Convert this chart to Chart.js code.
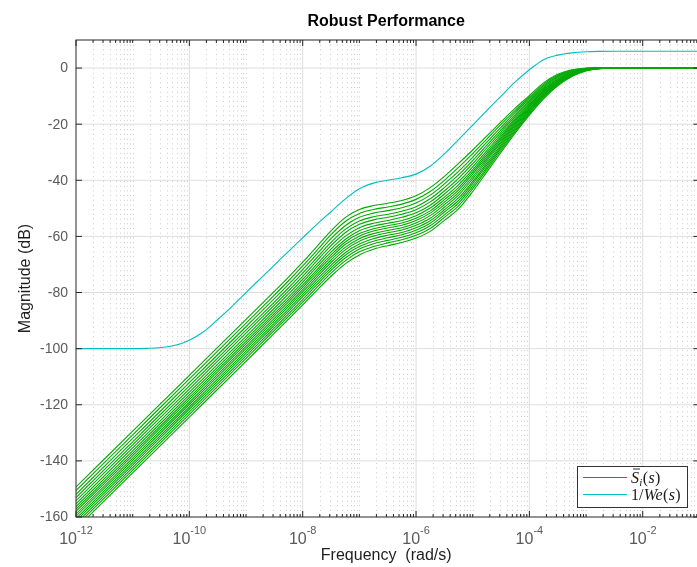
<!DOCTYPE html>
<html>
<head>
<meta charset="utf-8">
<script src="https://cdn.jsdelivr.net/npm/chart.js@4.4.1/dist/chart.umd.min.js"></script>
<style>
  html, body { margin: 0; padding: 0; background: #ffffff; overflow: hidden; }
  canvas { display: block; }
</style>
</head>
<body>
<canvas id="c" width="700" height="567"></canvas>
<script>
// Frequency grid (rad/s) for the sensitivity curves
const freq = [1e-12, 1e-11, 1e-10, 1e-9, 1.778e-9, 3.162e-9, 5.623e-9, 1e-8, 1.778e-8, 3.162e-8, 5.623e-8,
              1e-7, 1.778e-7, 3.162e-7, 5.623e-7, 1e-6, 1.778e-6, 3.162e-6, 5.623e-6, 1e-5, 1.778e-5,
              3.162e-5, 5.623e-5, 1e-4, 1.778e-4, 3.162e-4, 5.623e-4, 1e-3, 1.778e-3, 3.162e-3, 5.623e-3,
              1e-2, 1e-1];

// |S_i(jw)| in dB, one array per plant sample
const si01 = [-149.3, -129.4, -109.5, -89.6, -84.6, -79.6, -74.5, -69.2, -63.6, -58.0, -53.3, -50.4, -49.0, -48.2, -47.2, -45.5, -42.6, -38.6, -34.0, -29.2, -24.2, -19.2, -14.3, -9.8, -5.3, -2.2, -0.6, 0.0, 0.2, 0.2, 0.1, 0.0, 0.0];
const si02 = [-150.6, -130.7, -110.8, -90.9, -85.9, -80.9, -75.8, -70.5, -65.0, -59.4, -54.7, -51.8, -50.4, -49.5, -48.5, -46.8, -44.0, -40.0, -35.4, -30.5, -25.3, -20.1, -15.1, -10.4, -5.8, -2.6, -0.8, -0.1, 0.2, 0.2, 0.1, 0.0, 0.0];
const si03 = [-151.9, -132.0, -112.1, -92.2, -87.2, -82.2, -77.1, -71.8, -66.3, -60.8, -56.2, -53.2, -51.7, -50.8, -49.8, -48.1, -45.3, -41.3, -36.8, -31.8, -26.4, -21.1, -15.8, -11.0, -6.3, -2.9, -1.0, -0.2, 0.1, 0.2, 0.1, 0.0, 0.0];
const si04 = [-153.1, -133.2, -113.3, -93.4, -88.4, -83.4, -78.3, -73.1, -67.6, -62.1, -57.5, -54.5, -53.0, -52.1, -51.0, -49.4, -46.6, -42.6, -38.1, -33.0, -27.5, -22.0, -16.6, -11.6, -6.8, -3.2, -1.2, -0.3, 0.1, 0.1, 0.1, 0.0, 0.0];
const si05 = [-154.2, -134.3, -114.4, -94.5, -89.5, -84.5, -79.4, -74.2, -68.7, -63.3, -58.7, -55.7, -54.1, -53.2, -52.1, -50.5, -47.7, -43.8, -39.3, -34.1, -28.4, -22.8, -17.2, -12.1, -7.2, -3.5, -1.4, -0.3, 0.1, 0.1, 0.1, 0.0, 0.0];
const si06 = [-155.3, -135.4, -115.5, -95.6, -90.6, -85.6, -80.5, -75.3, -69.9, -64.5, -60.0, -56.9, -55.3, -54.3, -53.2, -51.6, -48.9, -44.9, -40.5, -35.2, -29.4, -23.6, -17.9, -12.6, -7.6, -3.9, -1.6, -0.4, 0.0, 0.1, 0.1, 0.0, 0.0];
const si07 = [-156.3, -136.4, -116.5, -96.6, -91.6, -86.6, -81.6, -76.3, -70.9, -65.6, -61.1, -58.0, -56.3, -55.3, -54.3, -52.6, -49.9, -46.0, -41.6, -36.2, -30.2, -24.3, -18.5, -13.1, -8.0, -4.1, -1.7, -0.5, 0.0, 0.1, 0.1, 0.0, 0.0];
const si08 = [-157.2, -137.3, -117.4, -97.5, -92.5, -87.5, -82.5, -77.3, -71.9, -66.6, -62.0, -59.0, -57.3, -56.2, -55.2, -53.5, -50.9, -46.9, -42.6, -37.0, -31.0, -24.9, -19.0, -13.5, -8.3, -4.4, -1.9, -0.5, 0.0, 0.1, 0.0, 0.0, 0.0];
const si09 = [-158.0, -138.1, -118.2, -98.3, -93.3, -88.3, -83.3, -78.1, -72.7, -67.5, -62.9, -59.9, -58.1, -57.0, -56.0, -54.3, -51.7, -47.8, -43.5, -37.8, -31.7, -25.5, -19.5, -13.9, -8.6, -4.6, -2.0, -0.6, 0.0, 0.1, 0.0, 0.0, 0.0];
const si10 = [-158.9, -139.0, -119.1, -99.2, -94.2, -89.2, -84.2, -79.0, -73.6, -68.4, -63.9, -60.8, -59.0, -57.9, -56.9, -55.2, -52.6, -48.7, -44.4, -38.7, -32.4, -26.2, -20.0, -14.3, -9.0, -4.8, -2.1, -0.6, -0.1, 0.1, 0.0, 0.0, 0.0];
const si11 = [-159.7, -139.8, -119.9, -100.0, -95.0, -90.0, -85.0, -79.8, -74.5, -69.3, -64.8, -61.7, -59.9, -58.7, -57.7, -56.0, -53.5, -49.6, -45.3, -39.5, -33.1, -26.7, -20.5, -14.7, -9.3, -5.1, -2.3, -0.7, -0.1, 0.1, 0.0, 0.0, 0.0];
const si12 = [-160.6, -140.7, -120.8, -100.9, -95.9, -90.9, -85.9, -80.7, -75.4, -70.3, -65.8, -62.7, -60.8, -59.6, -58.6, -56.9, -54.4, -50.5, -46.3, -40.4, -33.9, -27.4, -21.0, -15.1, -9.6, -5.3, -2.4, -0.8, -0.1, 0.0, 0.0, 0.0, 0.0];
const si13 = [-161.4, -141.5, -121.6, -101.7, -96.7, -91.7, -86.7, -81.5, -76.3, -71.2, -66.7, -63.6, -61.7, -60.5, -59.4, -57.8, -55.3, -51.3, -47.2, -41.2, -34.6, -28.0, -21.5, -15.5, -9.9, -5.5, -2.5, -0.8, -0.1, 0.0, 0.0, 0.0, 0.0];
const si14 = [-162.3, -142.4, -122.5, -102.6, -97.6, -92.6, -87.6, -82.5, -77.2, -72.1, -67.7, -64.5, -62.6, -61.4, -60.3, -58.7, -56.2, -52.3, -48.1, -42.1, -35.4, -28.6, -22.1, -15.9, -10.3, -5.8, -2.7, -0.9, -0.1, 0.0, 0.0, 0.0, 0.0];
const si15 = [-163.2, -143.3, -123.4, -103.5, -98.5, -93.5, -88.5, -83.4, -78.2, -73.1, -68.7, -65.5, -63.6, -62.3, -61.2, -59.6, -57.2, -53.2, -49.1, -43.0, -36.1, -29.3, -22.6, -16.3, -10.6, -6.0, -2.8, -0.9, -0.2, 0.0, 0.0, 0.0, 0.0];
const si16 = [-164.2, -144.3, -124.4, -104.5, -99.5, -94.5, -89.5, -84.4, -79.2, -74.2, -69.8, -66.6, -64.6, -63.3, -62.2, -60.6, -58.2, -54.3, -50.2, -44.0, -37.0, -30.0, -23.2, -16.8, -11.0, -6.3, -3.0, -1.0, -0.2, 0.0, 0.0, 0.0, 0.0];
const siCurves = [si01, si02, si03, si04, si05, si06, si07, si08, si09, si10, si11, si12, si13, si14, si15, si16];

// Performance bound 1/We(jw): frequency grid (rad/s) and magnitude (dB)
const freqWe = [1e-12, 1e-11, 1.778e-11, 3.162e-11, 5.623e-11, 1e-10, 1.778e-10, 3.162e-10, 5.623e-10,
                1e-9, 1.778e-9, 3.162e-9, 5.623e-9, 1e-8, 1.778e-8, 3.162e-8, 5.623e-8, 1e-7, 1.778e-7,
                3.162e-7, 5.623e-7, 1e-6, 1.778e-6, 3.162e-6, 5.623e-6, 1e-5, 1.778e-5, 3.162e-5, 5.623e-5,
                1e-4, 1.778e-4, 3.162e-4, 5.623e-4, 1e-3, 1.778e-3, 3.162e-3, 1e-2, 1e-1];
const invWe = [-100.0, -100.0, -99.9, -99.6, -98.8, -97.0, -94.0, -89.6, -85.0,
               -80.0, -75.1, -70.2, -65.3, -60.5, -55.7, -51.2, -46.7, -43.0, -41.0,
               -40.0, -39.1, -37.8, -35.0, -30.6, -25.5, -20.3, -15.1, -10.0, -4.9,
               -0.6, 3.0, 4.6, 5.4, 5.8, 5.95, 6.0, 6.0, 6.0];

// Axis ticks
const yTicks = [-160, -140, -120, -100, -80, -60, -40, -20, 0];
const xMajorTicks = [1e-12, 1e-10, 1e-8, 1e-6, 1e-4, 1e-2];
const xTickExponents = ['-12', '-10', '-8', '-6', '-4', '-2'];

const GREEN = '#00aa00';
const CYAN = '#00bfbf';
const SANS = '"Liberation Sans", Arial, Helvetica, sans-serif';
const SERIF = '"Liberation Serif", "DejaVu Serif", serif';

const datasets = siCurves.map((vals, i) => ({
  label: i === 0 ? 'S_i(s)' : 'S_i(s) #' + (i + 1),
  data: vals.map((v, j) => ({ x: freq[j], y: v })),
  borderColor: GREEN,
  borderWidth: 1.1,
  pointRadius: 0,
  fill: false,
  cubicInterpolationMode: 'monotone'
}));
datasets.push({
  label: '1/We(s)',
  data: invWe.map((v, j) => ({ x: freqWe[j], y: v })),
  borderColor: CYAN,
  borderWidth: 1.1,
  pointRadius: 0,
  fill: false,
  cubicInterpolationMode: 'monotone'
});

function minorFreqs() {
  const out = [];
  for (let e = -12; e < -1; e++) {
    for (let m = 2; m <= 10; m++) {
      if (m === 10 && Math.abs(e + 1) % 2 === 0) continue; // even decade = major tick
      out.push(m * Math.pow(10, e));
    }
  }
  return out;
}

// Draws grid, axes box with inward ticks, labels, title and legend
const frame = {
  id: 'frame',
  beforeDatasetsDraw(chart) {
    const { ctx, chartArea: a, scales: { x, y } } = chart;
    ctx.save();
    // dotted minor grid (vertical only)
    ctx.strokeStyle = '#cbcbcb';
    ctx.lineWidth = 1;
    ctx.setLineDash([1, 3.7]);
    for (const v of minorFreqs()) {
      const px = Math.round(x.getPixelForValue(v)) + 0.5;
      ctx.beginPath();
      ctx.moveTo(px, a.top);
      ctx.lineTo(px, a.bottom);
      ctx.stroke();
    }
    ctx.setLineDash([]);
    // solid major grid
    ctx.strokeStyle = '#dedede';
    for (const v of xMajorTicks.slice(1)) {
      const px = x.getPixelForValue(v);
      ctx.beginPath();
      ctx.moveTo(px, a.top);
      ctx.lineTo(px, a.bottom);
      ctx.stroke();
    }
    for (const v of yTicks.slice(1)) {
      const py = y.getPixelForValue(v);
      ctx.beginPath();
      ctx.moveTo(a.left, py);
      ctx.lineTo(a.right, py);
      ctx.stroke();
    }
    ctx.restore();
  },
  afterDatasetsDraw(chart) {
    const { ctx, chartArea: a, scales: { x, y } } = chart;
    ctx.save();
    ctx.strokeStyle = '#262626';
    ctx.lineWidth = 1;
    ctx.strokeRect(a.left, a.top, a.right - a.left, a.bottom - a.top);

    // x ticks, inward on bottom and top
    ctx.beginPath();
    for (const v of minorFreqs()) {
      const px = x.getPixelForValue(v);
      ctx.moveTo(px, a.bottom); ctx.lineTo(px, a.bottom - 3);
      ctx.moveTo(px, a.top); ctx.lineTo(px, a.top + 3);
    }
    for (const v of xMajorTicks) {
      const px = x.getPixelForValue(v);
      ctx.moveTo(px, a.bottom); ctx.lineTo(px, a.bottom - 6);
      ctx.moveTo(px, a.top); ctx.lineTo(px, a.top + 6);
    }
    // y ticks, inward on left and right
    for (const v of yTicks) {
      const py = y.getPixelForValue(v);
      ctx.moveTo(a.left, py); ctx.lineTo(a.left + 6, py);
      ctx.moveTo(a.right, py); ctx.lineTo(a.right - 6, py);
    }
    ctx.stroke();

    // y tick labels
    ctx.fillStyle = '#5a5a5a';
    ctx.font = '14px ' + SANS;
    ctx.textAlign = 'right';
    ctx.textBaseline = 'middle';
    for (const v of yTicks) {
      ctx.fillText(String(v), a.left - 8, y.getPixelForValue(v) + 0.5);
    }

    // x tick labels: 10 with superscript exponent
    ctx.textBaseline = 'alphabetic';
    ctx.textAlign = 'left';
    xMajorTicks.forEach((v, i) => {
      const px = x.getPixelForValue(v);
      ctx.font = '16px ' + SANS;
      const wBase = ctx.measureText('10').width;
      ctx.font = '11px ' + SANS;
      const wExp = ctx.measureText(xTickExponents[i]).width;
      const x0 = px - (wBase + wExp) / 2;
      ctx.font = '16px ' + SANS;
      ctx.fillText('10', x0, a.bottom + 26.5);
      ctx.font = '11px ' + SANS;
      ctx.fillText(xTickExponents[i], x0 + wBase, a.bottom + 17);
    });

    // axis titles
    ctx.fillStyle = '#1e1e1e';
    ctx.font = '16px ' + SANS;
    ctx.textAlign = 'center';
    ctx.fillText('Frequency  (rad/s)', (a.left + a.right) / 2 - 1.5, 559.5);
    ctx.save();
    ctx.translate(30, (a.top + a.bottom) / 2);
    ctx.rotate(-Math.PI / 2);
    ctx.fillText('Magnitude (dB)', 0, 0);
    ctx.restore();

    // title
    ctx.fillStyle = '#000000';
    ctx.font = 'bold 16px ' + SANS;
    ctx.fillText('Robust Performance', (a.left + a.right) / 2 - 1.5, 25.5);

    // legend
    const lx = 577.5, ly = 466.5, lw = 110, lh = 41;
    ctx.fillStyle = '#ffffff';
    ctx.fillRect(lx, ly, lw, lh);
    ctx.strokeStyle = '#333333';
    ctx.lineWidth = 1;
    ctx.strokeRect(lx, ly, lw, lh);
    const entries = [
      { color: GREEN, y: 477.5, parts: [
        { t: 'S', it: true, bar: true }, { t: 'i', it: true, sub: true },
        { t: '(', it: false }, { t: 's', it: true }, { t: ')', it: false }] },
      { color: CYAN, y: 494.5, parts: [
        { t: '1/', it: false }, { t: 'We', it: true },
        { t: '(', it: false }, { t: 's', it: true }, { t: ')', it: false }] }
    ];
    for (const e of entries) {
      ctx.strokeStyle = e.color;
      ctx.lineWidth = 1.2;
      ctx.beginPath();
      ctx.moveTo(583, e.y); ctx.lineTo(627, e.y);
      ctx.stroke();
      let tx = 631;
      const base = e.y + 5;
      ctx.fillStyle = '#1a1a1a';
      ctx.textAlign = 'left';
      for (const p of e.parts) {
        const size = p.sub ? 11 : 16;
        ctx.font = (p.it ? 'italic ' : '') + size + 'px ' + SERIF;
        const w = ctx.measureText(p.t).width;
        ctx.fillText(p.t, tx, p.sub ? base + 3 : base);
        if (p.bar) {
          ctx.strokeStyle = '#1a1a1a';
          ctx.lineWidth = 0.9;
          ctx.beginPath();
          ctx.moveTo(tx + 2, base - 13.5); ctx.lineTo(tx + w + 1, base - 13.5);
          ctx.stroke();
        }
        tx += w + (p.sub ? 0.5 : 0.3);
      }
    }
    ctx.restore();
  }
};

new Chart(document.getElementById('c'), {
  type: 'line',
  data: { datasets },
  options: {
    responsive: false,
    animation: false,
    parsing: false,
    layout: { padding: { left: 76, top: 40, right: 0.6, bottom: 50 } },
    scales: {
      x: { type: 'logarithmic', min: 1e-12, max: 1e-1, display: false },
      y: { type: 'linear', min: -160, max: 10, display: false }
    },
    plugins: {
      legend: { display: false },
      title: { display: false },
      tooltip: { enabled: false }
    },
    elements: { point: { radius: 0 } }
  },
  plugins: [frame]
});
</script>
</body>
</html>
